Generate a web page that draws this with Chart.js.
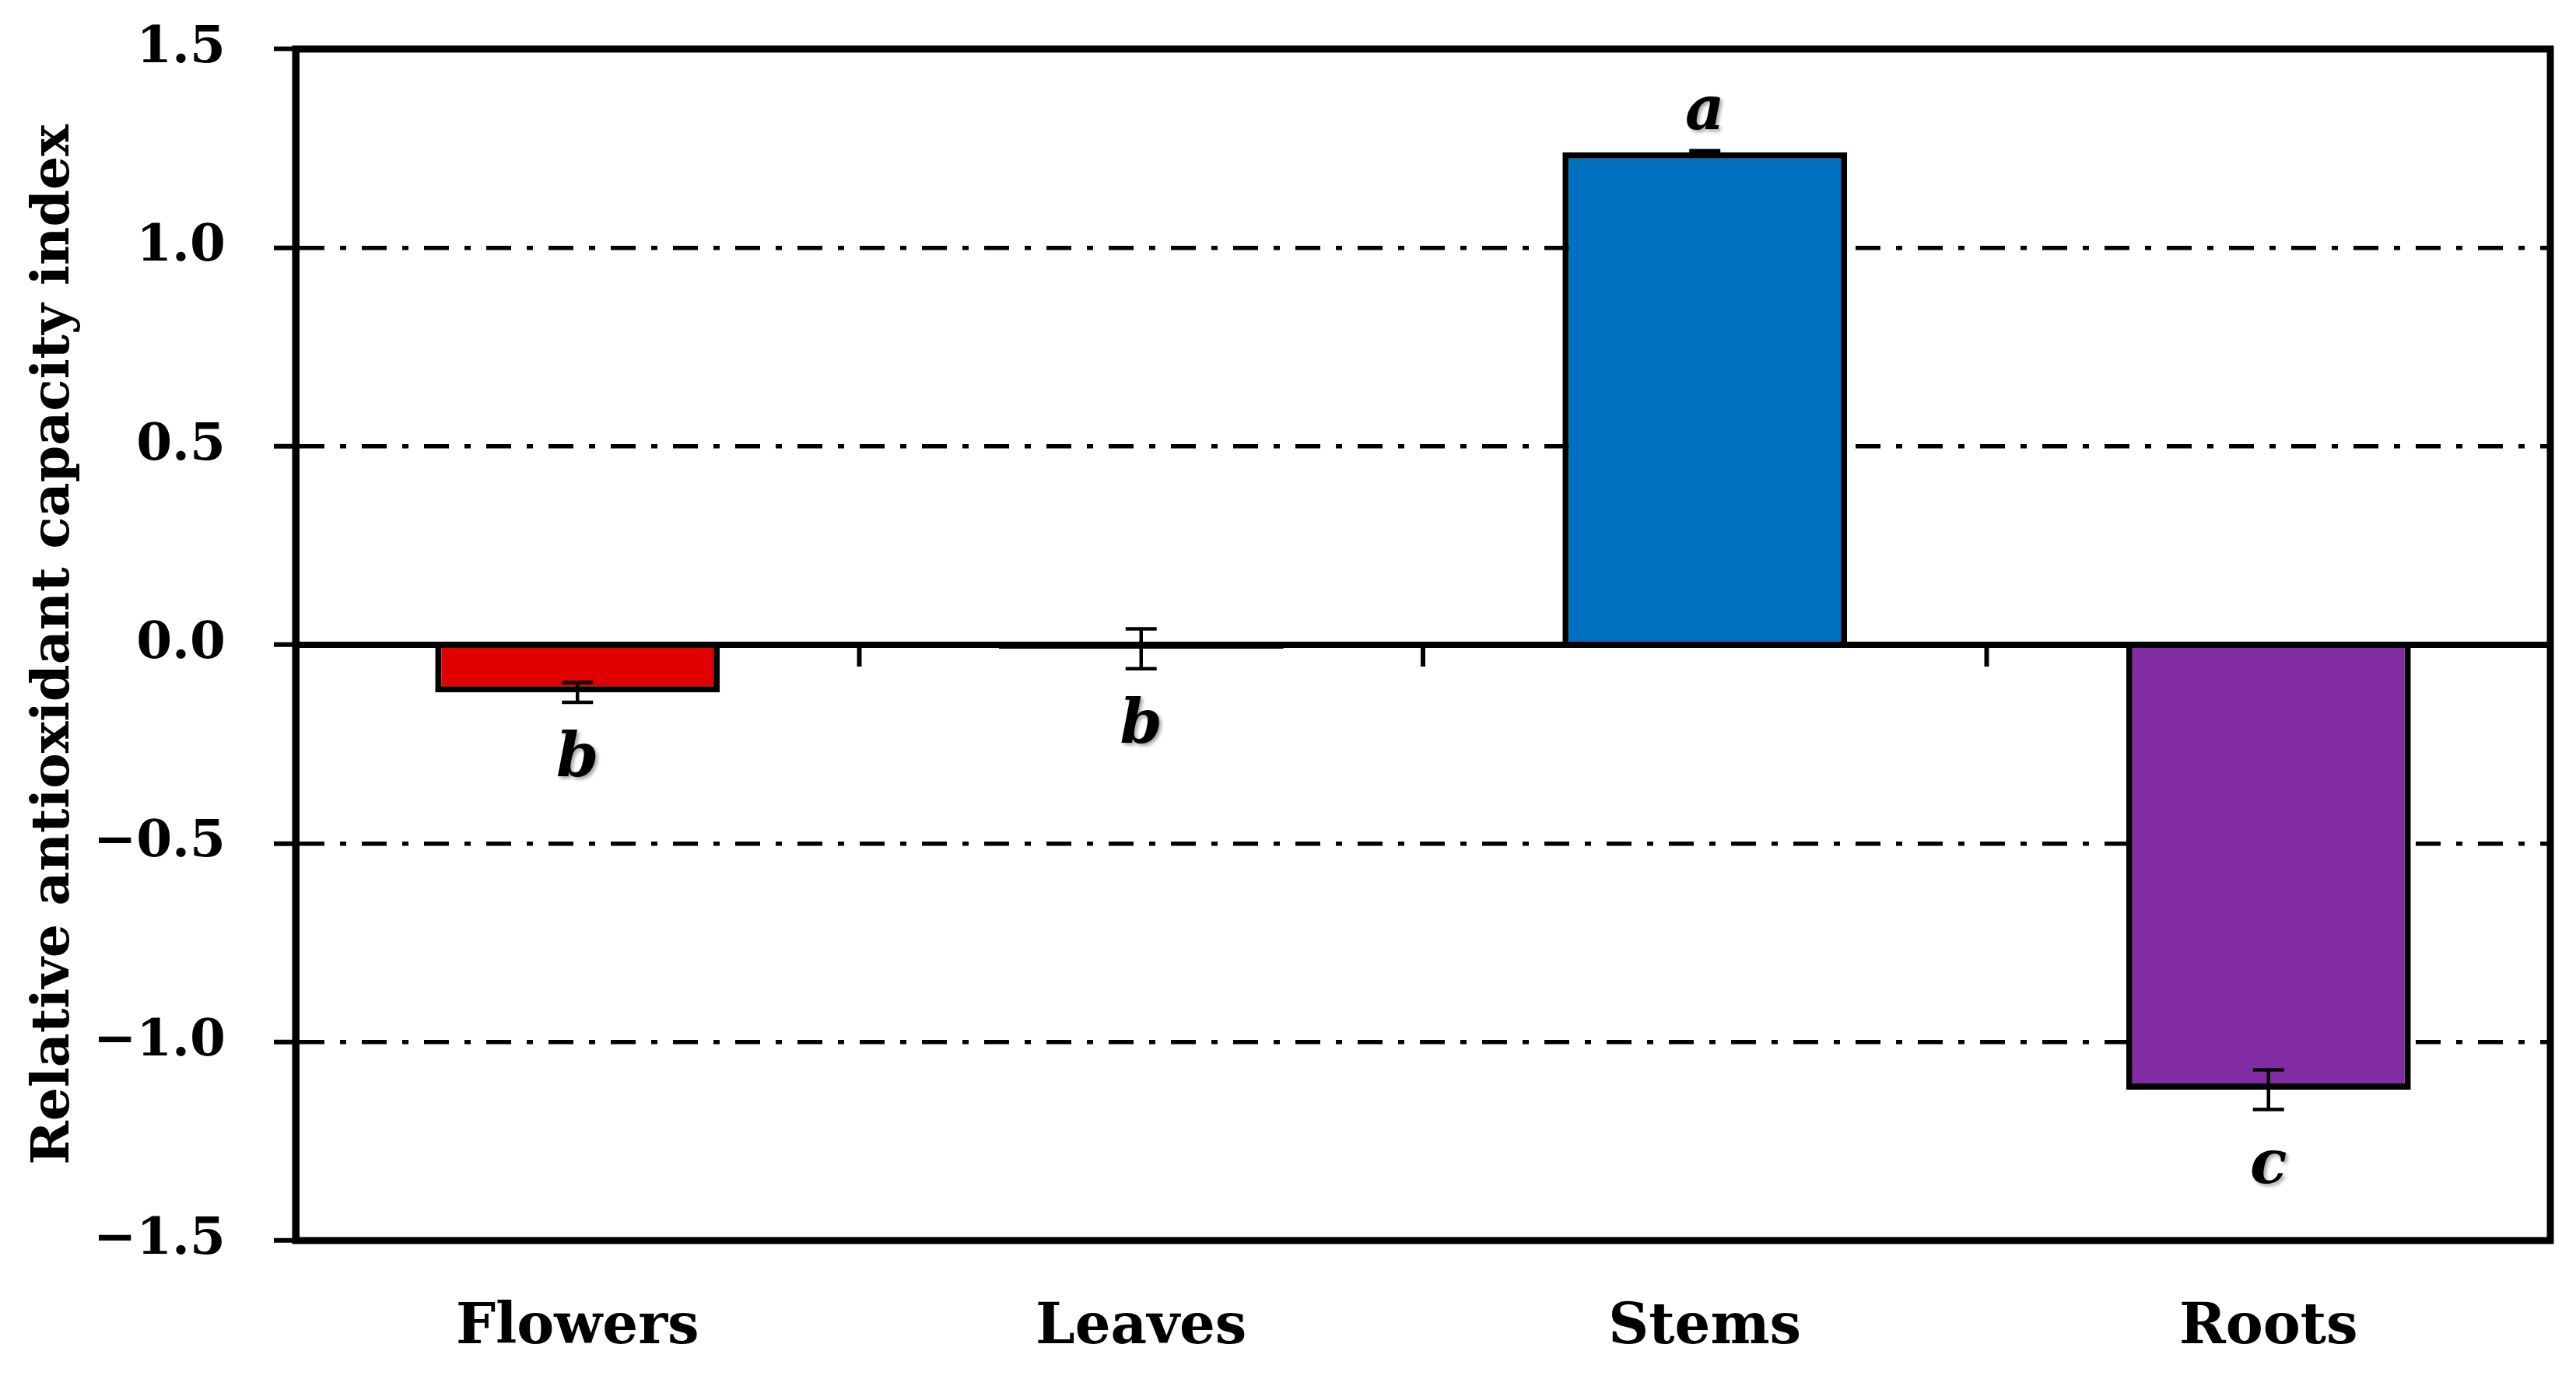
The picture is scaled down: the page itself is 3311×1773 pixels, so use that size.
<!DOCTYPE html>
<html><head><meta charset="utf-8">
<script src="https://cdn.jsdelivr.net/npm/chart.js@4.4.0/dist/chart.umd.min.js"></script>
<style>html,body{margin:0;padding:0;background:#fff;} #wrap{width:3311px;height:1773px;position:relative;}</style>
</head><body><div id="wrap"><canvas id="c"></canvas></div>
<script>
const categories = ['Flowers', 'Leaves', 'Stems', 'Roots'];
const values = [-0.12, -0.01, 1.24, -1.12];
const errors = [0.025, 0.05, 0.004, 0.05];
const letters = ['b', 'b', 'a', 'c'];
const barColors = ['#E00000', '#00B050', '#0070C0', '#812CA3'];
const yTickValues = [-1.5, -1.0, -0.5, 0, 0.5, 1.0, 1.5];
const yTickLabels = ['\u22121.5', '\u22121.0', '\u22120.5', '0.0', '0.5', '1.0', '1.5'];
const yTitle = 'Relative antioxidant capacity index';

const FONT = "'DejaVu Serif', 'Liberation Serif', serif";

const overlay = {
  id: 'overlay',
  afterDatasetsDraw(chart) {
    const ctx = chart.ctx;
    const x = chart.scales.x, y = chart.scales.y;
    const area = chart.chartArea;
    const y0 = y.getPixelForValue(0);
    ctx.save();
    ctx.strokeStyle = '#000';
    ctx.lineWidth = 8;
    ctx.beginPath();
    ctx.moveTo(area.left, y0);
    ctx.lineTo(area.right, y0);
    ctx.stroke();
    ctx.lineWidth = 6;
    for (let i = 0; i < categories.length - 1; i++) {
      const bx = (x.getPixelForValue(i) + x.getPixelForValue(i + 1)) / 2;
      ctx.beginPath();
      ctx.moveTo(bx, y0);
      ctx.lineTo(bx, y0 + 28);
      ctx.stroke();
    }
    ctx.lineWidth = 4.5;
    const cap = 20;
    values.forEach((v, i) => {
      const cx = x.getPixelForValue(i);
      const yt = y.getPixelForValue(v + errors[i]);
      const yb = y.getPixelForValue(v - errors[i]);
      ctx.beginPath();
      ctx.moveTo(cx, yt); ctx.lineTo(cx, yb);
      ctx.moveTo(cx - cap, yt); ctx.lineTo(cx + cap, yt);
      ctx.moveTo(cx - cap, yb); ctx.lineTo(cx + cap, yb);
      ctx.stroke();
    });
    ctx.fillStyle = '#000';
    ctx.font = "italic bold 78px " + FONT;
    ctx.textAlign = 'center';
    ctx.textBaseline = 'alphabetic';
    ctx.shadowColor = 'rgba(0,0,0,0.35)';
    ctx.shadowOffsetX = 3; ctx.shadowOffsetY = 3; ctx.shadowBlur = 4;
    values.forEach((v, i) => {
      const cx = x.getPixelForValue(i);
      let ty;
      if (v >= 0) ty = y.getPixelForValue(v + errors[i]) - 28;
      else ty = y.getPixelForValue(v - errors[i]) + 95;
      ctx.fillText(letters[i], cx, ty);
    });
    ctx.shadowColor = 'rgba(0,0,0,0)';
    ctx.lineWidth = 9;
    ctx.strokeRect(area.left, area.top, area.right - area.left, area.bottom - area.top);
    ctx.restore();
  }
};

new Chart(document.getElementById('c'), {
  type: 'bar',
  data: {
    labels: categories,
    datasets: [{
      data: values,
      backgroundColor: barColors,
      borderColor: '#000',
      borderWidth: 8,
      borderSkipped: 'start',
      categoryPercentage: 1.0,
      barPercentage: 0.505
    }]
  },
  options: {
    responsive: true,
    maintainAspectRatio: false,
    devicePixelRatio: 1,
    animation: false,
    layout: { padding: { left: 0, right: 33, top: 63, bottom: 0 } },
    plugins: { legend: { display: false }, tooltip: { enabled: false } },
    scales: {
      x: {
        offset: true,
        grid: { display: false },
        border: { display: false },
        ticks: { color: '#000', padding: 62, font: { family: FONT, weight: 'bold', size: 72 } },
        afterFit(s) { s.height = 178; s.paddingLeft = 0; s.paddingRight = 0; }
      },
      y: {
        min: -1.5, max: 1.5,
        afterBuildTicks(s) { s.ticks = yTickValues.map(v => ({ value: v })); },
        ticks: {
          color: '#000', padding: 62,
          font: { family: FONT, weight: 'bold', size: 66 },
          callback(value) {
            const i = yTickValues.findIndex(t => Math.abs(t - value) < 1e-6);
            return i >= 0 ? yTickLabels[i] : '';
          }
        },
        grid: {
          drawOnChartArea: true,
          drawTicks: true,
          tickLength: 28,
          tickWidth: 6,
          tickColor: '#000',
          lineWidth: 5.5,
          color(c) {
            const v = c.tick ? c.tick.value : 0;
            return (Math.abs(v) < 1e-6 || Math.abs(Math.abs(v) - 1.5) < 1e-6) ? 'rgba(0,0,0,0)' : '#000';
          }
        },
        border: { display: true, color: '#000', width: 9, dash: [32, 20, 8, 20] },
        title: {
          display: true, text: yTitle, color: '#000',
          font: { family: FONT, weight: 'bold', size: 68 },
          padding: { top: 30, bottom: 0 }
        },
        afterFit(s) { s.width = 380; s.paddingTop = 0; s.paddingBottom = 0; }
      }
    }
  },
  plugins: [overlay]
});
</script>
</body></html>
